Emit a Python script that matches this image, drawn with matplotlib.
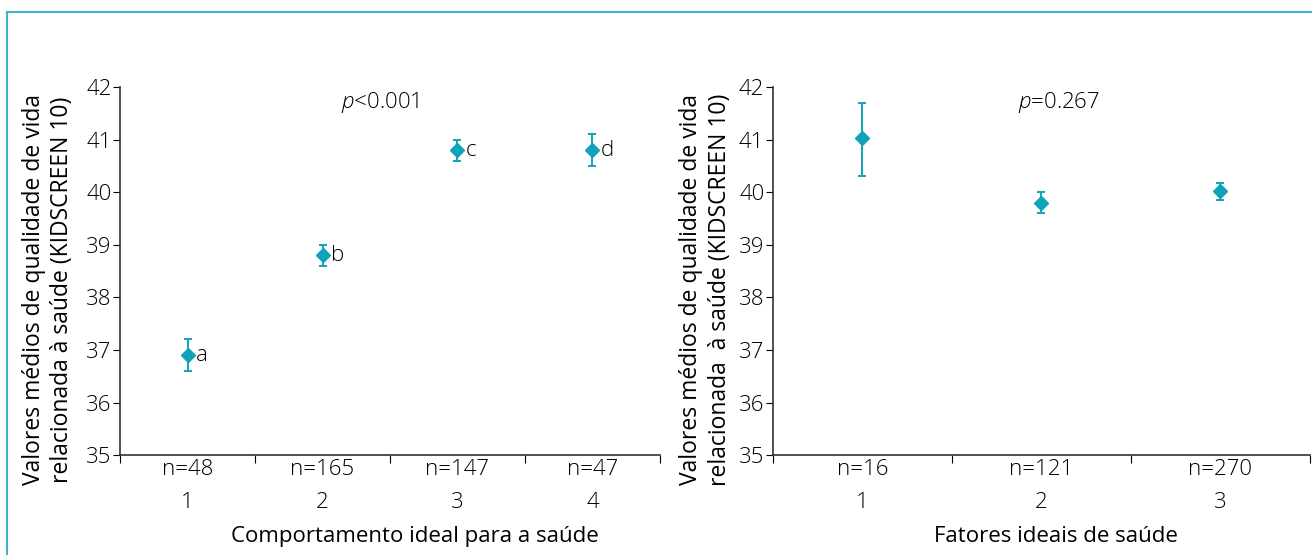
import numpy as np
import matplotlib
matplotlib.use("Agg")
import matplotlib.pyplot as plt
from matplotlib.lines import Line2D

plt.rcParams['font.family'] = ['Open Sans', 'DejaVu Sans']
plt.rcParams['font.weight'] = 'light'
plt.rcParams['mathtext.fontset'] = 'custom'
plt.rcParams['mathtext.rm'] = 'Open Sans:light'
plt.rcParams['mathtext.it'] = 'Open Sans:italic:light'

# left panel: ideal health behaviours
beh_n = ["n=48", "n=165", "n=147", "n=47"]
beh_cat = ["1", "2", "3", "4"]
beh_mean = [36.9, 38.8, 40.8, 40.8]
beh_low = [36.6, 38.6, 40.6, 40.5]
beh_high = [37.2, 39.0, 41.0, 41.1]
beh_letters = ["a", "b", "c", "d"]

# right panel: ideal health factors
fac_n = ["n=16", "n=121", "n=270"]
fac_cat = ["1", "2", "3"]
fac_mean = [41.03, 39.8, 40.02]
fac_low = [40.3, 39.6, 39.86]
fac_high = [41.7, 40.0, 40.17]

ylabel_left = "Valores médios de qualidade de vida\nrelacionada à saúde (KIDSCREEN 10)"
ylabel_right = "Valores médios de qualidade de vida\nrelacionada  à saúde (KIDSCREEN 10)"

teal = "#0fa3bb"
fs = 16

fig = plt.figure(figsize=(13.12, 5.55), dpi=100)
ax1 = fig.add_axes([0.0915, 0.18, 0.4115, 0.663])
ax2 = fig.add_axes([0.589, 0.18, 0.4095, 0.663])


def panel(ax, ns, cats, mean, low, high, xlabel, ylabel, ptext, px, xl_x, yl_x):
    x = np.arange(1, len(mean) + 1)
    mean = np.array(mean)
    err = [mean - np.array(low), np.array(high) - mean]
    ax.errorbar(x, mean, yerr=err, fmt='D', color=teal, ms=7, capsize=2.8,
                elinewidth=1.4, capthick=1.4)
    ax.set_xlim(0.5, len(mean) + 0.5)
    ax.set_ylim(35, 42)
    ax.set_yticks(range(35, 43))
    ax.tick_params(axis='y', labelsize=fs, direction='out', length=5, pad=1)
    ax.set_xticks(np.arange(0.5, len(mean) + 1))
    ax.set_xticklabels([])
    ax.tick_params(axis='x', direction='out', length=6)
    for xi, n, c in zip(x, ns, cats):
        ax.annotate(n + "\n" + c, (xi, 35), xytext=(0, -3), textcoords='offset points',
                    ha='center', va='top', fontsize=fs, linespacing=1.75)
    ax.spines['top'].set_visible(False)
    ax.spines['right'].set_visible(False)
    for s in ['left', 'bottom']:
        ax.spines[s].set_color('#333333')
        ax.spines[s].set_linewidth(1.2)
    ax.set_xlabel(xlabel, fontsize=fs)
    ax.xaxis.set_label_coords(xl_x, -0.192)
    ax.set_ylabel(ylabel, fontsize=16.5, linespacing=1.25)
    ax.yaxis.set_label_coords(yl_x, 0.45)
    ax.text(px, 41.7, ptext, fontsize=fs, ha='center', va='center')


panel(ax1, beh_n, beh_cat, beh_mean, beh_low, beh_high,
      "Comportamento ideal para a saúde", ylabel_left, r"$\it{p}$<0.001", 2.43,
      0.546, -0.085)
for xi, m, l in zip(range(1, 5), beh_mean, beh_letters):
    ax1.text(xi + 0.06, m, l, fontsize=fs, ha='left', va='center')

panel(ax2, fac_n, fac_cat, fac_mean, fac_low, fac_high,
      "Fatores ideais de saúde", ylabel_right, r"$\it{p}$=0.267", 2.1,
      0.527, -0.076)

# teal frame
fig.add_artist(Line2D([7 / 1312, 7 / 1312], [0, 1 - 12 / 555], color='#3bb3c8', lw=1.5))
fig.add_artist(Line2D([7 / 1312, 1], [1 - 12 / 555, 1 - 12 / 555], color='#3bb3c8', lw=1.5))

fig.savefig("out.png", dpi=100)
